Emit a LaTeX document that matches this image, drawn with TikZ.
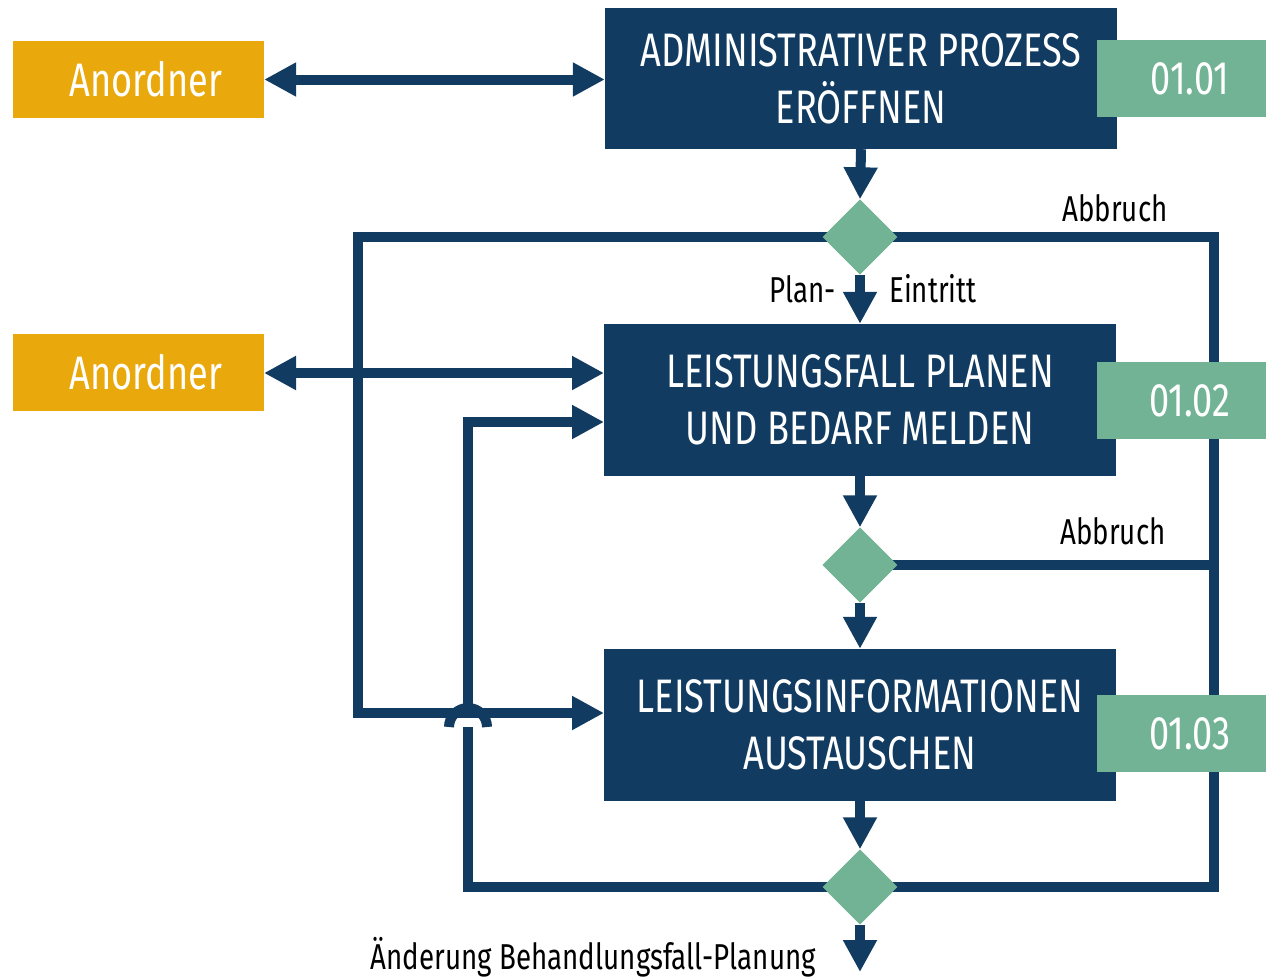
\documentclass[tikz,border=0pt]{standalone}
\usepackage{fontspec}
\setmainfont{Fira Sans}[FakeStretch=0.77]
\usetikzlibrary{arrows.meta,shapes.geometric}
\definecolor{navy}{HTML}{113B60}
\definecolor{gold}{HTML}{E9A80B}
\definecolor{sage}{HTML}{72B395}
\tikzset{
  pbox/.style={rectangle, fill=navy, text=white, inner sep=0pt, minimum width=512pt, align=center,
    font=\fontsize{47}{57}\selectfont},
  tagbox/.style={rectangle, fill=sage, inner sep=0pt, minimum width=169pt, minimum height=77pt},
  tagtxt/.style={text=white, inner sep=0pt, font=\fontsize{47}{57}\selectfont},
  rolebox/.style={rectangle, fill=gold, inner sep=0pt, minimum width=251pt, minimum height=77pt},
  roletxt/.style={text=white, inner sep=0pt, font=\fontsize{47}{57}\selectfont},
  gate/.style={diamond, fill=sage, inner sep=0pt, minimum width=75pt, minimum height=75pt},
  lbl/.style={text=black, inner sep=0pt, font=\fontsize{36}{40}\selectfont},
  conn/.style={draw=navy, line width=10pt},
  flow/.style={conn, -{Triangle[length=32pt,width=32pt]}},
  both/.style={conn, {Triangle[length=32pt,width=32pt]}-{Triangle[length=32pt,width=32pt]}},
}
\begin{document}
\begin{tikzpicture}[x=1pt,y=-1pt]
\useasboundingbox (0,0) rectangle (1266,977);
% gateways (positions)
\node[gate] (d1) at (860,237) {};
\node[gate] (d2) at (860,565) {};
\node[gate] (d3) at (860,887) {};
% helper coordinates
\coordinate (rv1) at (1214,237);
\coordinate (rv2) at (1214,565);
\coordinate (rv3) at (1214,887);
\coordinate (lv1) at (358,237);
\coordinate (lv2) at (358,713);
\coordinate (in3) at (604,713);
\coordinate (hv1) at (468,887);
\coordinate (hv2) at (468,727);
\coordinate (hv3) at (468,708);
\coordinate (hv4) at (468,422);
\coordinate (in2) at (604,422);
\coordinate (in2a) at (604,373);
\coordinate (outA) at (264,373);
\coordinate (endp) at (860,972);
% connectors under everything
\draw[conn] (d1.center) -- (rv1) -- (rv3) -- (d3.center);
\draw[conn] (d2.center) -- (rv2);
\draw[flow] (d1.center) -- (lv1) -- (lv2) -- (in3);
\draw[conn] (d3.center) -- (hv1) -- (hv2);
\draw[conn] (449,727) arc[start angle=180,end angle=0,radius=19pt];
\draw[flow] (hv3) -- (hv4) -- (in2);
% redraw gateways on top
\node[gate] at (d1) {};
\node[gate] at (d2) {};
\node[gate] at (d3) {};
% role boxes
\node[rolebox] (anA) at (138.5,79.5) {};
\node[roletxt] (anAx) at (146,79.5) {Anordner};
\node[rolebox] (anB) at (138.5,372.5) {};
\node[roletxt] (anBx) at (146,372.5) {Anordner};
% process boxes
\node[pbox, minimum height=141pt] (b1) at (861,78.5) {ADMINISTRATIVER PROZESS\\ERÖFFNEN};
\node[pbox, minimum height=152pt] (b2) at (860,400) {LEISTUNGSFALL PLANEN\\UND BEDARF MELDEN};
\node[pbox, minimum height=152pt] (b3) at (860,725) {LEISTUNGSINFORMATIONEN\\AUSTAUSCHEN};
% tags
\node[tagbox] (t1) at (1181.5,78.5) {};
\node[tagtxt] (t1x) at (1190,78.5) {01.01};
\node[tagbox] (t2) at (1181.5,400.5) {};
\node[tagtxt] (t2x) at (1190,400.5) {01.02};
\node[tagbox] (t3) at (1181.5,733.5) {};
\node[tagtxt] (t3x) at (1190,733.5) {01.03};
% vertical flow
\draw[flow] (b1.south) -- (d1.north);
\draw[flow] (d1.south) -- (b2.north);
\draw[flow] (b2.south) -- (d2.north);
\draw[flow] (d2.south) -- (b3.north);
\draw[flow] (b3.south) -- (d3.north);
\draw[flow] (d3.south) -- (endp);
% role arrows
\draw[both] (anA.east) -- (anA.east -| b1.west);
\draw[both] (outA) -- (in2a);
% labels
\node[lbl, anchor=east] (pl) at (836,289) {Plan-};
\node[lbl, anchor=west] (ei) at (889,289) {Eintritt};
\node[lbl] (ab1) at (1115,208) {Abbruch};
\node[lbl] (ab2) at (1113,531) {Abbruch};
\node[lbl, anchor=east] (ae) at (816,957) {Änderung Behandlungsfall-Planung};
\end{tikzpicture}
\end{document}
